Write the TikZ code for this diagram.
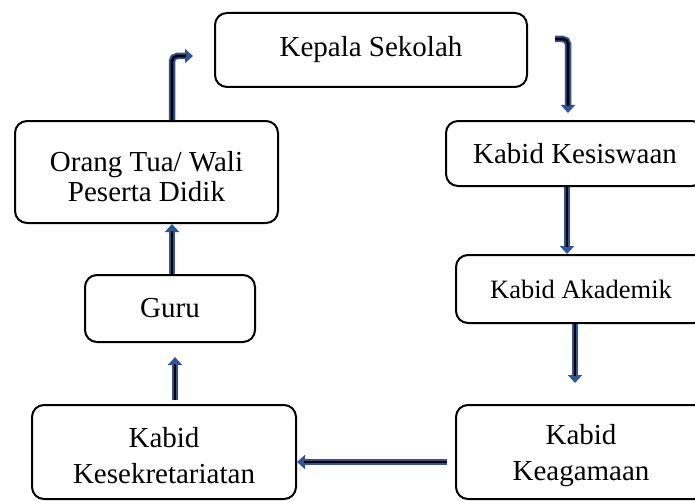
\documentclass[tikz,border=0pt]{standalone}
\usepackage{fontspec}
\setmainfont{Liberation Serif}
\usetikzlibrary{arrows.meta,calc}
\definecolor{flowblue}{HTML}{2F5597}
\tikzset{
  unit/.style={draw=black, line width=2, rounded corners=12, align=center,
    inner sep=0, font=\fontsize{29}{31}\selectfont},
  flow/.style={draw=flowblue, line width=6.5, line cap=butt,
    -{Triangle[width=14,length=8]},
    postaction={draw=black, line width=2.6, -, shorten >=7}},
  elbow/.style={rounded corners=5},
}
% strut that lowers a centred text block by half its height
\newcommand{\lowerby}[1]{\rule{0pt}{#1}}
\begin{document}
\begin{tikzpicture}[x=1pt,y=-1pt]
\useasboundingbox (0,0) rectangle (695,500);
\fill[white] (0,0) rectangle (695,500);
\clip (0,0) rectangle (695,500);

% boxes of the chain
\node[unit, minimum width=312, minimum height=74] (kepala) at (371,50) {Kepala Sekolah};
\node[unit, minimum width=258, minimum height=65] (kesiswaan) at (575,153.5) {Kabid Kesiswaan};
\node[unit, minimum width=250, minimum height=68, font=\fontsize{26.5}{29}\selectfont] (akademik) at (581,289) {Kabid Akademik};
\node[unit, minimum width=250, minimum height=94, font=\fontsize{29}{36}\selectfont] (keagamaan) at (581,452) {\lowerby{28pt}Kabid\\Keagamaan};
\node[unit, minimum width=264, minimum height=94, font=\fontsize{29}{36}\selectfont] (kesekr) at (164,452) {\lowerby{28pt}Kabid\\Kesekretariatan};
\node[unit, minimum width=170, minimum height=67] (guru) at (170,308.5) {Guru};
\node[unit, minimum width=263, minimum height=102, font=\fontsize{29}{30.5}\selectfont] (ortu) at (146.5,172) {\lowerby{29pt}Orang Tua/ Wali\\Peserta Didik};

% loose ends and columns of the connectors
\coordinate (topstart) at (555,39);
\coordinate (colA) at (568,0);
\coordinate (colB) at (567,0);
\coordinate (colC) at (575,0);
\coordinate (colD) at (175,0);
\coordinate (colE) at (172,0);
\coordinate (rowA) at (0,462);
\coordinate (rowB) at (0,56);

% connectors
\draw[flow, elbow] (topstart) -| ($(colA |- kesiswaan.north)+(0,-7)$);
\draw[flow] (colB |- kesiswaan.south) -- (colB |- akademik.north);
\draw[flow] (colC |- akademik.south) -- ($(colC |- keagamaan.north)+(0,-21)$);
\draw[flow] ($(keagamaan.west |- rowA)+(-8,0)$) -- (kesekr.east |- rowA);
\draw[flow] ($(colD |- kesekr.north)+(0,-4)$) -- ($(colD |- guru.south)+(0,14)$);
\draw[flow] (colE |- guru.north) -- (colE |- ortu.south);
\draw[flow, elbow] (colE |- ortu.north) |- ($(kepala.west |- rowB)+(-21,0)$);
\end{tikzpicture}
\end{document}
